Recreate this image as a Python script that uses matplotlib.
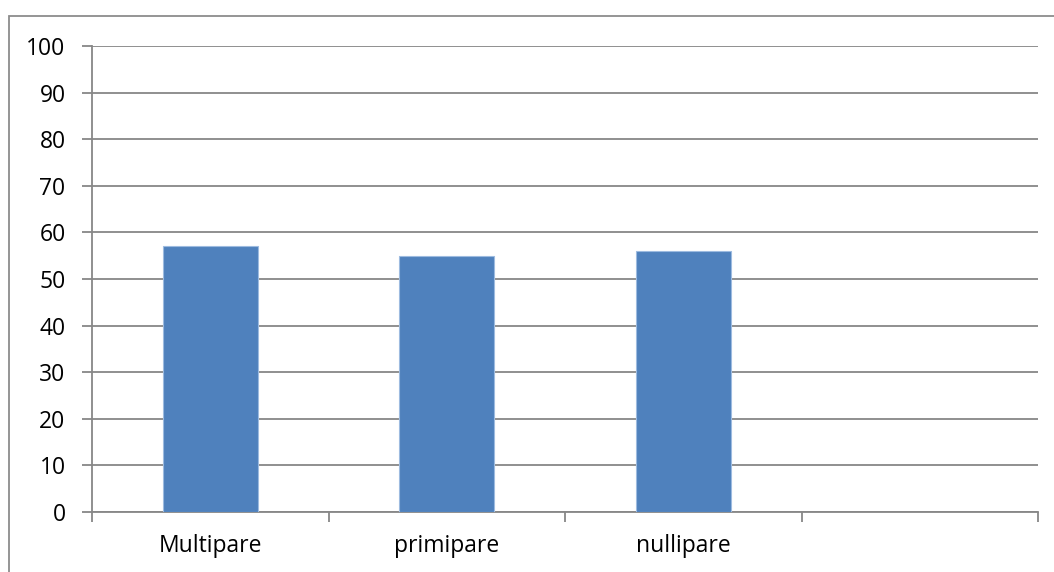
import matplotlib.pyplot as plt
from matplotlib.patches import Rectangle

categories = ["Multipare", "primipare", "nullipare", ""]
values = [57, 55, 56, None]
y_ticks = list(range(0, 101, 10))

W, H, DPI = 1054, 572, 100
fig = plt.figure(figsize=(W / DPI, H / DPI), dpi=DPI)
plt.rcParams['font.family'] = ['Open Sans', 'DejaVu Sans']

# outer chart frame
fig.patches.append(Rectangle((9 / W, -0.01), 1.05, 1 - 16 / H + 0.01,
                             transform=fig.transFigure, fill=False,
                             edgecolor='#8c8c8c', linewidth=1.3))

ax = fig.add_axes([92 / W, 1 - 512 / H, (1038 - 92) / W, (512 - 46) / H])
grid_c = '#878787'

xs = list(range(len(categories)))
bx = [x for x, v in zip(xs, values) if v is not None]
bv = [v for v in values if v is not None]
ax.bar(bx, bv, width=0.4, color='#4F81BD', edgecolor='#9dbbe0', linewidth=0.8, zorder=3)

ax.set_xlim(-0.5, len(categories) - 0.5)
ax.set_ylim(0, 100)
ax.set_yticks(y_ticks)
ax.set_yticklabels([str(t) for t in y_ticks], fontsize=16.5)
ax.yaxis.grid(True, color=grid_c, linewidth=1.3, zorder=0)
ax.set_axisbelow(True)

# category labels centered in slots, ticks on slot boundaries
ax.set_xticks([x - 0.5 for x in xs] + [len(categories) - 0.5])
ax.set_xticklabels([])
ax.set_xticks(xs, minor=True)
ax.set_xticklabels(categories, minor=True, fontsize=16.5)
ax.tick_params(axis='x', which='minor', length=0, pad=16)
ax.tick_params(axis='x', which='major', length=7, width=1.3, color=grid_c, direction='out')
ax.tick_params(axis='y', length=7, width=1.3, color=grid_c, direction='out', pad=12)

for s in ['top', 'right']:
    ax.spines[s].set_visible(False)
for s in ['left', 'bottom']:
    ax.spines[s].set_color(grid_c)
    ax.spines[s].set_linewidth(1.3)

fig.savefig('out.png', dpi=DPI)
